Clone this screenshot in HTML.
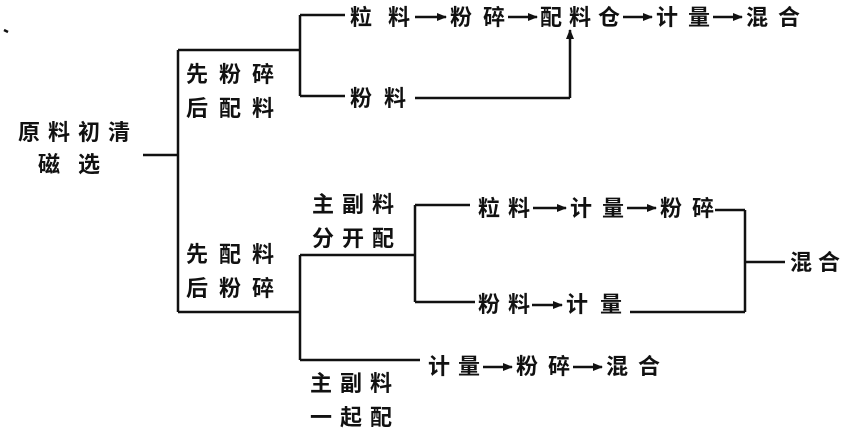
<!DOCTYPE html>
<html><head><meta charset="utf-8"><style>
html,body{margin:0;padding:0;background:#fff;}
svg{display:block;}
text{font-family:"Liberation Sans","Noto Sans CJK SC",sans-serif;font-size:22px;font-weight:bold;fill:#111;}
</style></head><body>
<svg width="841" height="432" viewBox="0 0 841 432" xmlns="http://www.w3.org/2000/svg">
<defs><marker id="a" markerWidth="10" markerHeight="8" refX="9" refY="4" orient="auto" markerUnits="userSpaceOnUse"><path d="M0,0 L10,4 L0,8 Z" fill="#111"/></marker></defs>
<g stroke="#111" stroke-width="2.5" fill="none">
<line x1="4" y1="30" x2="8" y2="32"/>
<line x1="143" y1="155" x2="178" y2="155"/>
<line x1="178" y1="50" x2="178" y2="312"/>
<line x1="178" y1="50" x2="300" y2="50"/>
<line x1="300" y1="15" x2="300" y2="96"/>
<line x1="300" y1="15" x2="345" y2="15"/>
<line x1="300" y1="96" x2="345" y2="96"/>
<line x1="415" y1="98" x2="570" y2="98"/>
<line x1="570" y1="98" x2="570" y2="30" marker-end="url(#a)"/>
<line x1="178" y1="312" x2="300" y2="312"/>
<line x1="300" y1="255" x2="300" y2="360"/>
<line x1="300" y1="255" x2="415" y2="255"/>
<line x1="415" y1="205" x2="415" y2="302"/>
<line x1="415" y1="205" x2="470" y2="205"/>
<line x1="415" y1="302" x2="475" y2="302"/>
<line x1="715" y1="210" x2="745" y2="210"/>
<line x1="745" y1="210" x2="745" y2="312"/>
<line x1="630" y1="312" x2="745" y2="312"/>
<line x1="745" y1="262" x2="785" y2="262"/>
<line x1="300" y1="360" x2="420" y2="360"/>
<!-- arrows -->
<line x1="415" y1="17" x2="446" y2="17" marker-end="url(#a)"/>
<line x1="508" y1="17" x2="537" y2="17" marker-end="url(#a)"/>
<line x1="623" y1="17" x2="652" y2="17" marker-end="url(#a)"/>
<line x1="713" y1="17" x2="742" y2="17" marker-end="url(#a)"/>
<line x1="533" y1="208" x2="566" y2="208" marker-end="url(#a)"/>
<line x1="627" y1="208" x2="656" y2="208" marker-end="url(#a)"/>
<line x1="532" y1="305" x2="562" y2="305" marker-end="url(#a)"/>
<line x1="483" y1="367" x2="512" y2="367" marker-end="url(#a)"/>
<line x1="573" y1="367" x2="602" y2="367" marker-end="url(#a)"/>
</g>
<text x="18" y="140" textLength="112">原料初清</text>
<text x="38" y="172" textLength="62">磁选</text>
<text x="186" y="82" textLength="88">先粉碎</text>
<text x="186" y="116" textLength="88">后配料</text>
<text x="350" y="25" textLength="60">粒料</text>
<text x="450" y="25" textLength="55">粉碎</text>
<text x="540" y="25" textLength="80">配料仓</text>
<text x="656" y="25" textLength="54">计量</text>
<text x="746" y="25" textLength="54">混合</text>
<text x="350" y="106" textLength="56">粉料</text>
<text x="186" y="262" textLength="88">先配料</text>
<text x="186" y="296" textLength="88">后粉碎</text>
<text x="312" y="212" textLength="82">主副料</text>
<text x="312" y="246" textLength="82">分开配</text>
<text x="478" y="216" textLength="52">粒料</text>
<text x="570" y="216" textLength="54">计量</text>
<text x="660" y="216" textLength="54">粉碎</text>
<text x="478" y="312" textLength="52">粉料</text>
<text x="566" y="312" textLength="56">计量</text>
<text x="790" y="270" textLength="50">混合</text>
<text x="428" y="374" textLength="52">计量</text>
<text x="516" y="374" textLength="54">粉碎</text>
<text x="606" y="374" textLength="54">混合</text>
<text x="310" y="391" textLength="82">主副料</text>
<text x="310" y="425" textLength="82">一起配</text>
</svg>
</body></html>
